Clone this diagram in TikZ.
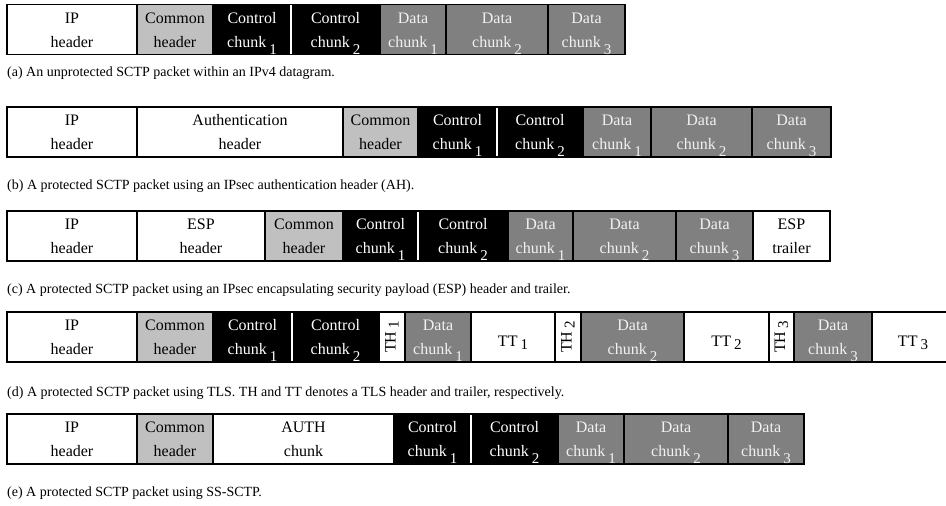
\documentclass[tikz,border=0pt]{standalone}
\usepackage{fontspec}
\setmainfont{Liberation Serif}
\usepackage{graphicx}
\definecolor{commongray}{HTML}{C0C0C0}
\definecolor{datagray}{HTML}{808080}
\definecolor{datatext}{HTML}{F2F2F2}
\newcommand{\sbx}[2][7]{\hspace{3pt}\raisebox{-#1pt}{\fontsize{15}{15}\selectfont #2}}
\tikzset{
  cellbase/.style={draw=black, line width=1.2pt, inner sep=0pt, outer sep=0pt,
    minimum height=50pt, anchor=north west, align=center,
    font=\fontsize{16}{24}\selectfont},
  two/.style={cellbase, text height=35pt, text depth=0pt},
  plainc/.style={two, fill=white},
  commonc/.style={two, fill=commongray},
  ctrlc/.style={two, fill=black, text=white},
  datac/.style={two, fill=datagray, text=datatext},
  thc/.style={cellbase, fill=white},
  ttc/.style={cellbase, fill=white, text height=18pt, text depth=0pt},
  sepline/.style={draw=white, line width=1.6pt, shorten >=0.7pt, shorten <=0.7pt},
  caption/.style={anchor=base west, inner sep=0pt, font=\fontsize{14}{16}\selectfont}
}
\begin{document}
\begin{tikzpicture}[x=1pt, y=-1pt]
\useasboundingbox (0,0) rectangle (946,506);
% ---------- row a
\node[plainc, minimum width=130pt] (a-ip) at (7,4.5) {IP\\header};
\node[commonc, minimum width=76pt] (a-com) at (a-ip.north east) {Common\\header};
\node[ctrlc, minimum width=78pt] (a-c1) at (a-com.north east) {Control\\chunk\sbx{1}};
\node[ctrlc, minimum width=89pt] (a-c2) at (a-c1.north east) {Control\\chunk\sbx{2}};
\node[datac, minimum width=66pt] (a-d1) at (a-c2.north east) {Data\\chunk\sbx{1}};
\node[datac, minimum width=102pt] (a-d2) at (a-d1.north east) {Data\\chunk\sbx{2}};
\node[datac, minimum width=77pt] (a-d3) at (a-d2.north east) {Data\\chunk\sbx{3}};
\draw[sepline] (a-c1.north east) -- (a-c1.south east);
\node[caption] (cap-a) at (7,76) {(a) An unprotected SCTP packet within an IPv4 datagram.};
% ---------- row b
\node[plainc, minimum width=130pt] (b-ip) at (7,107) {IP\\header};
\node[plainc, minimum width=206pt] (b-ah) at (b-ip.north east) {Authentication\\header};
\node[commonc, minimum width=75pt] (b-com) at (b-ah.north east) {Common\\header};
\node[ctrlc, minimum width=79pt] (b-c1) at (b-com.north east) {Control\\chunk\sbx{1}};
\node[ctrlc, minimum width=86pt] (b-c2) at (b-c1.north east) {Control\\chunk\sbx{2}};
\node[datac, minimum width=68pt] (b-d1) at (b-c2.north east) {Data\\chunk\sbx{1}};
\node[datac, minimum width=101pt] (b-d2) at (b-d1.north east) {Data\\chunk\sbx{2}};
\node[datac, minimum width=79pt] (b-d3) at (b-d2.north east) {Data\\chunk\sbx{3}};
\draw[sepline] (b-c1.north east) -- (b-c1.south east);
\node[caption] (cap-b) at (7,189) {(b) A protected SCTP packet using an IPsec authentication header (AH).};
% ---------- row c
\node[plainc, minimum width=130pt] (c-ip) at (7,211) {IP\\header};
\node[plainc, minimum width=128pt] (c-esp) at (c-ip.north east) {ESP\\header};
\node[commonc, minimum width=78pt] (c-com) at (c-esp.north east) {Common\\header};
\node[ctrlc, minimum width=75pt] (c-c1) at (c-com.north east) {Control\\chunk\sbx{1}};
\node[ctrlc, minimum width=90pt] (c-c2) at (c-c1.north east) {Control\\chunk\sbx{2}};
\node[datac, minimum width=65pt] (c-d1) at (c-c2.north east) {Data\\chunk\sbx{1}};
\node[datac, minimum width=103pt] (c-d2) at (c-d1.north east) {Data\\chunk\sbx{2}};
\node[datac, minimum width=77pt] (c-d3) at (c-d2.north east) {Data\\chunk\sbx{3}};
\node[plainc, minimum width=77pt] (c-et) at (c-d3.north east) {ESP\\trailer};
\draw[sepline] (c-c1.north east) -- (c-c1.south east);
\node[caption] (cap-c) at (7,293) {(c) A protected SCTP packet using an IPsec encapsulating security payload (ESP) header and trailer.};
% ---------- row d
\node[plainc, minimum width=130pt] (d-ip) at (7,312) {IP\\header};
\node[commonc, minimum width=76pt] (d-com) at (d-ip.north east) {Common\\header};
\node[ctrlc, minimum width=79pt] (d-c1) at (d-com.north east) {Control\\chunk\sbx{1}};
\node[ctrlc, minimum width=87pt] (d-c2) at (d-c1.north east) {Control\\chunk\sbx{2}};
\node[thc, minimum width=26pt] (d-th1) at (d-c2.north east) {\rotatebox{90}{TH\sbx[3]{1}}};
\node[datac, minimum width=66pt] (d-d1) at (d-th1.north east) {Data\\chunk\sbx{1}};
\node[ttc, minimum width=84pt] (d-tt1) at (d-d1.north east) {TT\sbx[3]{1}};
\node[thc, minimum width=26pt] (d-th2) at (d-tt1.north east) {\rotatebox{90}{TH\sbx[3]{2}}};
\node[datac, minimum width=103pt] (d-d2) at (d-th2.north east) {Data\\chunk\sbx{2}};
\node[ttc, minimum width=85pt] (d-tt2) at (d-d2.north east) {TT\sbx[3]{2}};
\node[thc, minimum width=25pt] (d-th3) at (d-tt2.north east) {\rotatebox{90}{TH\sbx[3]{3}}};
\node[datac, minimum width=78pt] (d-d3) at (d-th3.north east) {Data\\chunk\sbx{3}};
\node[ttc, minimum width=82pt] (d-tt3) at (d-d3.north east) {TT\sbx[3]{3}};
\draw[sepline] (d-c1.north east) -- (d-c1.south east);
\node[caption] (cap-d) at (7,396) {(d) A protected SCTP packet using TLS. TH and TT denotes a TLS header and trailer, respectively.};
% ---------- row e
\node[plainc, minimum width=130pt] (e-ip) at (7,414) {IP\\header};
\node[commonc, minimum width=76pt] (e-com) at (e-ip.north east) {Common\\header};
\node[plainc, minimum width=181pt] (e-auth) at (e-com.north east) {AUTH\\chunk};
\node[ctrlc, minimum width=77pt] (e-c1) at (e-auth.north east) {Control\\chunk\sbx{1}};
\node[ctrlc, minimum width=87pt] (e-c2) at (e-c1.north east) {Control\\chunk\sbx{2}};
\node[datac, minimum width=66pt] (e-d1) at (e-c2.north east) {Data\\chunk\sbx{1}};
\node[datac, minimum width=104pt] (e-d2) at (e-d1.north east) {Data\\chunk\sbx{2}};
\node[datac, minimum width=76pt] (e-d3) at (e-d2.north east) {Data\\chunk\sbx{3}};
\draw[sepline] (e-c1.north east) -- (e-c1.south east);
\node[caption] (cap-e) at (7,496) {(e) A protected SCTP packet using SS-SCTP.};
\end{tikzpicture}
\end{document}
